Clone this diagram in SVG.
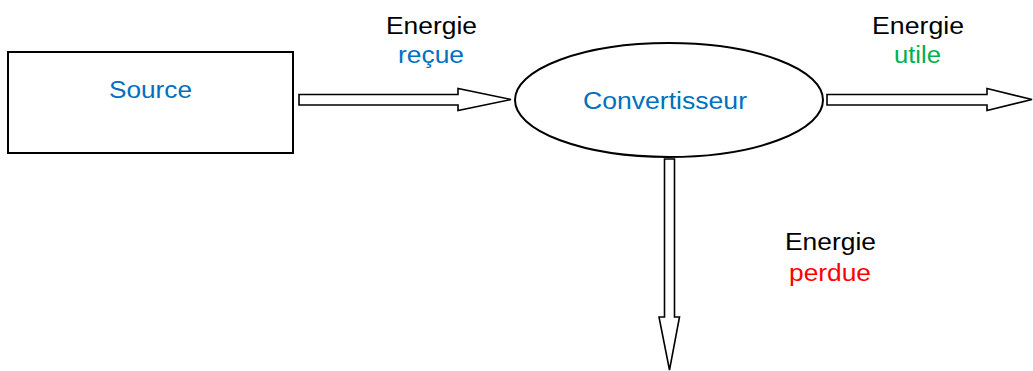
<svg xmlns="http://www.w3.org/2000/svg" width="1033" height="371" viewBox="0 0 1033 371">
<style>
.shape{fill:#fff;stroke:#000;stroke-width:2}
.arrow{fill:#fff;stroke:#000;stroke-width:1.6;stroke-linejoin:miter}
text{font-family:"Liberation Sans",Arial,sans-serif;font-size:23px;text-anchor:middle}
.k{fill:#000}.b{fill:#0070C0}.g{fill:#00B050}.r{fill:#FF0000}
</style>
<rect width="1033" height="371" fill="#fff"/>
<g id="connectors">
<polygon class="arrow" points="299,94.5 458,94.5 458,88.5 511,99.5 458,110.5 458,105 299,105"/>
<polygon class="arrow" points="827,94.5 987,94.5 987,88.5 1032,99.5 987,110.5 987,105 827,105"/>
<polygon class="arrow" points="664.5,159 674.5,159 674.5,317 679.5,317 669.5,370 659,317 664.5,317"/>
</g>
<g id="source">
<rect class="shape" x="8" y="52" width="285" height="101"/>
<text class="b" x="150.5" y="98" textLength="83" lengthAdjust="spacingAndGlyphs">Source</text>
</g>
<g id="convertisseur">
<ellipse class="shape" cx="669" cy="100" rx="154" ry="57"/>
<text class="b" x="665" y="109" textLength="164" lengthAdjust="spacingAndGlyphs">Convertisseur</text>
</g>
<g id="label-recue">
<text class="k" x="431.5" y="34" textLength="91" lengthAdjust="spacingAndGlyphs">Energie</text>
<text class="b" x="431" y="63" textLength="66" lengthAdjust="spacingAndGlyphs">reçue</text>
</g>
<g id="label-utile">
<text class="k" x="918" y="34" textLength="92" lengthAdjust="spacingAndGlyphs">Energie</text>
<text class="g" x="917.5" y="63" textLength="47" lengthAdjust="spacingAndGlyphs">utile</text>
</g>
<g id="label-perdue">
<text class="k" x="830.5" y="250" textLength="91" lengthAdjust="spacingAndGlyphs">Energie</text>
<text class="r" x="830" y="281" textLength="82" lengthAdjust="spacingAndGlyphs">perdue</text>
</g>
</svg>
